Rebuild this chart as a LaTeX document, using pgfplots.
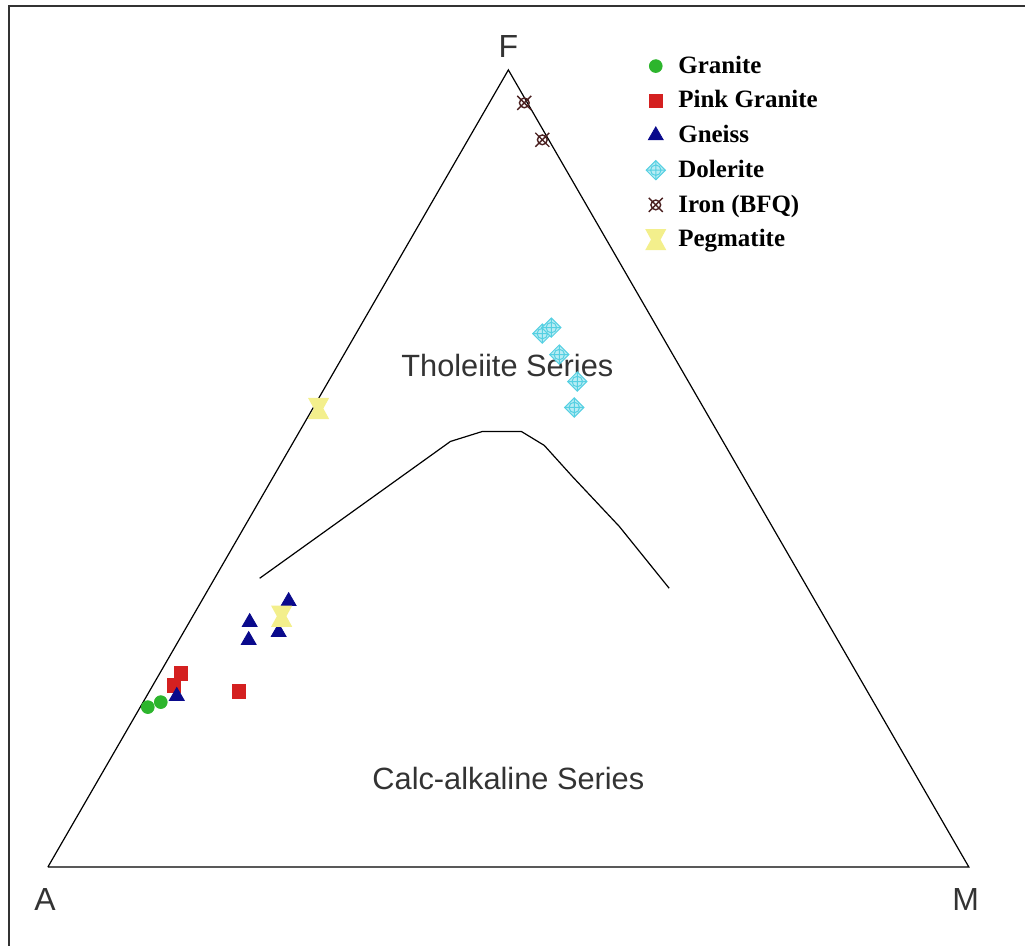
\documentclass[border=0pt]{standalone}
\usepackage{pgfplots}
\pgfplotsset{compat=1.18}
\usepackage{fontspec}
\setmainfont{Liberation Serif}
\newfontfamily\arial{Liberation Sans}
\definecolor{cgreen}{HTML}{2DB52D}
\definecolor{cred}{HTML}{D42020}
\definecolor{cblue}{HTML}{0A0A8C}
\definecolor{ccyan}{HTML}{55D0E2}
\definecolor{ccyanfill}{HTML}{B8ECF4}
\definecolor{ciron}{HTML}{4A2020}
\definecolor{cyel}{HTML}{F3EF8C}
\definecolor{ctxt}{HTML}{333333}
\pgfdeclareplotmark{dolmark}{%
  \pgfpathmoveto{\pgfqpoint{\pgfplotmarksize}{0pt}}%
  \pgfpathlineto{\pgfqpoint{0pt}{\pgfplotmarksize}}%
  \pgfpathlineto{\pgfqpoint{-\pgfplotmarksize}{0pt}}%
  \pgfpathlineto{\pgfqpoint{0pt}{-\pgfplotmarksize}}%
  \pgfpathclose
  \pgfusepathqfillstroke
  \pgfpathcircle{\pgfpointorigin}{0.55\pgfplotmarksize}%
  \pgfpathmoveto{\pgfqpoint{-\pgfplotmarksize}{0pt}}%
  \pgfpathlineto{\pgfqpoint{\pgfplotmarksize}{0pt}}%
  \pgfpathmoveto{\pgfqpoint{0pt}{-\pgfplotmarksize}}%
  \pgfpathlineto{\pgfqpoint{0pt}{\pgfplotmarksize}}%
  \pgfusepathqstroke
}
\pgfdeclareplotmark{ironmark}{%
  \pgfpathcircle{\pgfpointorigin}{0.7\pgfplotmarksize}%
  \pgfpathmoveto{\pgfqpoint{-\pgfplotmarksize}{-\pgfplotmarksize}}%
  \pgfpathlineto{\pgfqpoint{\pgfplotmarksize}{\pgfplotmarksize}}%
  \pgfpathmoveto{\pgfqpoint{-\pgfplotmarksize}{\pgfplotmarksize}}%
  \pgfpathlineto{\pgfqpoint{\pgfplotmarksize}{-\pgfplotmarksize}}%
  \pgfusepathqstroke
}
\pgfdeclareplotmark{pegmark}{%
  \pgfpathmoveto{\pgfqpoint{-\pgfplotmarksize}{\pgfplotmarksize}}%
  \pgfpathlineto{\pgfqpoint{\pgfplotmarksize}{\pgfplotmarksize}}%
  \pgfpathlineto{\pgfqpoint{0.45\pgfplotmarksize}{0pt}}%
  \pgfpathlineto{\pgfqpoint{\pgfplotmarksize}{-\pgfplotmarksize}}%
  \pgfpathlineto{\pgfqpoint{-\pgfplotmarksize}{-\pgfplotmarksize}}%
  \pgfpathlineto{\pgfqpoint{-0.45\pgfplotmarksize}{0pt}}%
  \pgfpathclose
  \pgfusepathqfill
}
\begin{document}
\begin{tikzpicture}
\begin{axis}[
  width=513pt, height=473.5pt, scale only axis,
  xmin=0, xmax=1026, ymin=0, ymax=947, y dir=reverse,
  axis lines=none, clip=false,
  legend style={at={(axis cs:646,52)}, anchor=north west, draw=none, fill=none,
    font=\bfseries\fontsize{12.5}{13.5}\selectfont, row sep=3.2pt, column sep=4pt,
    inner sep=0pt, outer sep=0pt},
  legend cell align=left,
]
\path (axis cs:0,0) rectangle (axis cs:1026,947);
\draw[ctxt, line width=1.3pt] (axis cs:9,947) -- (axis cs:9,6) -- (axis cs:1026,6);
\addplot[black, line width=0.6pt, forget plot] coordinates {(48,868) (509,70) (970,868) (48,868)};
\addplot[black, line width=0.6pt, forget plot] coordinates {(260,579) (451,442) (483,432) (522,432) (545,446) (573,477) (620,527) (670,589)};

\addplot[only marks, mark=*, mark size=3.2pt, draw=cgreen, fill=cgreen] coordinates {(148,708) (161,703)};
\addlegendentry{Granite}
\addplot[only marks, mark=square*, mark size=3.4pt, draw=cred, fill=cred] coordinates {(181,674) (174,686) (239,692)};
\addlegendentry{Pink Granite}
\addplot[only marks, mark=triangle*, mark size=4.3pt, draw=cblue, fill=cblue] coordinates {(177,697) (250,623) (249,641) (279,633) (289,602)};
\addlegendentry{Gneiss}
\addplot[only marks, mark=dolmark, mark size=4.8pt, draw=ccyan, fill=ccyanfill, line width=0.5pt] coordinates {(543,334) (552,328) (560,355) (578,382) (575,408)};
\addlegendentry{Dolerite}
\addplot[only marks, mark=ironmark, mark size=3.5pt, draw=ciron, line width=0.7pt] coordinates {(525,103) (543,140)};
\addlegendentry{Iron (BFQ)}
\addplot[only marks, mark=pegmark, mark size=5.3pt, fill=cyel, draw=none] coordinates {(319,409) (282,617)};
\addlegendentry{Pegmatite}

\node[font=\arial\fontsize{15.4}{17}\selectfont, text=ctxt] at (axis cs:508,366) {Tholeiite Series};
\node[font=\arial\fontsize{15.4}{17}\selectfont, text=ctxt] at (axis cs:509,779) {Calc-alkaline Series};
\node[font=\arial\fontsize{16}{18}\selectfont, text=ctxt] at (axis cs:509,47) {F};
\node[font=\arial\fontsize{16}{18}\selectfont, text=ctxt] at (axis cs:45,901) {A};
\node[font=\arial\fontsize{16}{18}\selectfont, text=ctxt] at (axis cs:967,901) {M};
\end{axis}
\end{tikzpicture}
\end{document}
